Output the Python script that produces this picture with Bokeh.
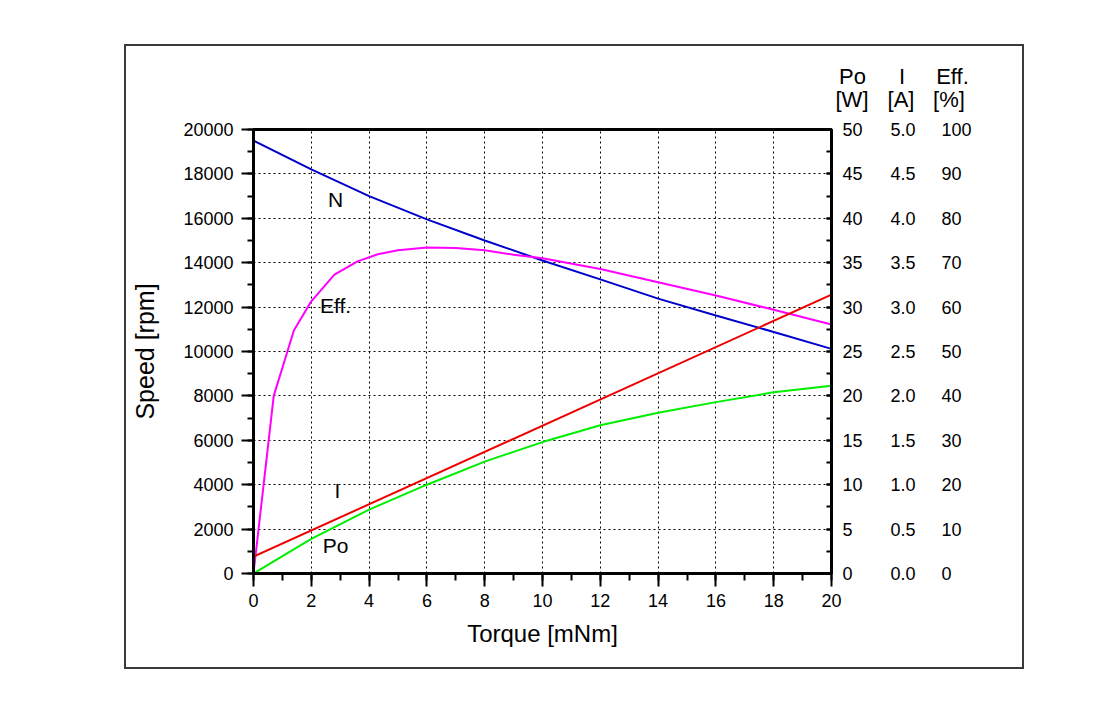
from bokeh.plotting import figure
from bokeh.models import (Range1d, LinearAxis, SingleIntervalTicker, NumeralTickFormatter,
                          ColumnDataSource, GridBox, Div)
from bokeh.core.properties import value
from bokeh.embed import file_html
from bokeh.resources import INLINE

FONT = "Liberation Sans"

# ---- data ----
torque_n = [0, 2, 4, 6, 8, 10, 12, 14, 16, 18, 20]
speed_rpm = [19500, 18200, 17000, 15950, 15000, 14100, 13250, 12380, 11620, 10880, 10120]

torque_eff = [0, 0.7, 1.4, 2.0, 2.8, 3.6, 4.3, 5.0, 6.0, 7.0, 8.0, 9.0, 10, 12, 14, 16, 18, 20]
eff_pct = [0, 40.0, 54.8, 61.3, 67.3, 70.3, 71.9, 72.8, 73.4, 73.3, 72.8, 71.8, 71.0, 68.6, 65.6, 62.6, 59.4, 56.1]

torque_i = [0, 20]
current_a = [0.19, 3.14]

torque_po = [0, 2, 4, 6, 8, 10, 12, 14, 16, 18, 20]
power_w = [0, 3.9, 7.2, 10.0, 12.6, 14.8, 16.7, 18.1, 19.3, 20.4, 21.15]

curve_labels = ["N", "Eff.", "I", "Po"]
curve_label_x = [2.84, 2.84, 2.9, 2.84]
curve_label_y = [16850, 12070, 3740, 1260]

header_names = ["Po", "I", "Eff."]
header_units = ["[W]", "[A]", "[%]"]

BW, BH = 898, 622   # chart canvas
BOXW, BOXH = 900, 625  # outer framed box

# ---- background: outer box with the column headers ----
hdr_pos_name = [(726.5, 30.5), (776, 30.5), (826.5, 30.5)]
hdr_pos_unit = [(726, 54), (775, 54), (823, 54)]
spans = []
for txt, (x, y) in list(zip(header_names, hdr_pos_name)) + list(zip(header_units, hdr_pos_unit)):
    spans.append(
        f'<span style="position:absolute;left:{x}px;top:{y}px;transform:translate(-50%,-50%);'
        f"font-family:'{FONT}';font-size:22px;line-height:1;color:black;white-space:nowrap\">{txt}</span>")
html = (f'<div style="position:relative;width:{BW-4}px;height:{BH-4}px;">' + "".join(spans) + "</div>")
bg = Div(text=html, width=BOXW, height=BOXH,
         styles={"border": "2px solid #3a3a3a", "box-sizing": "border-box", "background": "white",
                 "padding": "0", "margin": "0"})

# ---- main chart ----
p = figure(width=BW, height=BH, output_backend="svg", toolbar_location=None,
           x_range=Range1d(0, 20), y_range=Range1d(0, 20000),
           min_border_left=129, min_border_right=191, min_border_top=85, min_border_bottom=93,
           background_fill_alpha=0, border_fill_alpha=0)

p.extra_y_ranges = {"po": Range1d(0, 50), "cur": Range1d(0, 5), "eff": Range1d(0, 100)}

p.outline_line_color = "black"
p.outline_line_width = 3

for g in (p.xgrid, p.ygrid):
    g.grid_line_color = "black"
    g.grid_line_dash = "2 3"
    g.grid_line_width = 1

xa = p.xaxis[0]
xa.ticker = SingleIntervalTicker(interval=2, num_minor_ticks=2)
xa.axis_label = "Torque [mNm]"
ya = p.yaxis[0]
ya.ticker = SingleIntervalTicker(interval=2000, num_minor_ticks=2)
ya.axis_label = "Speed [rpm]"
p.xgrid.ticker = xa.ticker
p.ygrid.ticker = ya.ticker

for ax, tick_out, minor_out, stand in ((xa, 13, 7, 7), (ya, 12, 6, 8)):
    ax.axis_line_width = 3
    ax.axis_line_color = "black"
    ax.major_tick_line_width = 2
    ax.minor_tick_line_width = 2
    ax.major_tick_out = tick_out
    ax.major_tick_in = 0
    ax.minor_tick_out = minor_out
    ax.minor_tick_in = 0
    ax.major_label_text_font = FONT
    ax.major_label_text_font_size = "18px"
    ax.major_label_text_color = "black"
    ax.major_label_standoff = stand
    ax.axis_label_text_font = FONT
    ax.axis_label_text_font_style = "normal"
    ax.axis_label_text_color = "black"
xa.axis_label_text_font_size = "24px"
ya.axis_label_text_font_size = "25px"
xa.axis_label_standoff = 10
ya.axis_label_standoff = 21

ax_po = LinearAxis(y_range_name="po", ticker=SingleIntervalTicker(interval=5, num_minor_ticks=2))
ax_po.axis_line_width = 3
ax_po.major_tick_line_width = 2
ax_po.minor_tick_line_width = 2
ax_po.major_tick_in = 5
ax_po.major_tick_out = 0
ax_po.minor_tick_in = 5
ax_po.minor_tick_out = 0
ax_po.major_label_standoff = 11

ax_i = LinearAxis(y_range_name="cur", ticker=SingleIntervalTicker(interval=0.5, num_minor_ticks=0),
                  formatter=NumeralTickFormatter(format="0.0"))
ax_eff = LinearAxis(y_range_name="eff", ticker=SingleIntervalTicker(interval=10, num_minor_ticks=0))
for ax in (ax_i, ax_eff):
    ax.axis_line_color = None
    ax.major_tick_line_color = None
    ax.minor_tick_line_color = None
    ax.major_tick_in = 0
    ax.major_tick_out = 0
    ax.minor_tick_in = 0
    ax.minor_tick_out = 0
ax_i.major_label_standoff = 25
ax_eff.major_label_standoff = 23
for ax in (ax_po, ax_i, ax_eff):
    ax.major_label_text_font = FONT
    ax.major_label_text_font_size = "18px"
    ax.major_label_text_color = "black"
    p.add_layout(ax, "right")

p.line(torque_n, speed_rpm, line_color="#0000cc", line_width=2)
p.line(torque_eff, eff_pct, line_color="#ff00ff", line_width=2, y_range_name="eff")
p.line(torque_i, current_a, line_color="#ee0000", line_width=2, y_range_name="cur")
p.line(torque_po, power_w, line_color="#00ee00", line_width=2, y_range_name="po")

src = ColumnDataSource(dict(x=curve_label_x, y=curve_label_y, t=curve_labels))
p.text(x="x", y="y", text="t", source=src, text_font=value(FONT), text_font_size="21px",
       text_align="center", text_baseline="middle", text_color="black")

layout = GridBox(children=[(bg, 0, 0), (p, 0, 0)])
layout.margin = (44, 0, 0, 124)

open("out.html", "w").write(file_html(layout, INLINE))
